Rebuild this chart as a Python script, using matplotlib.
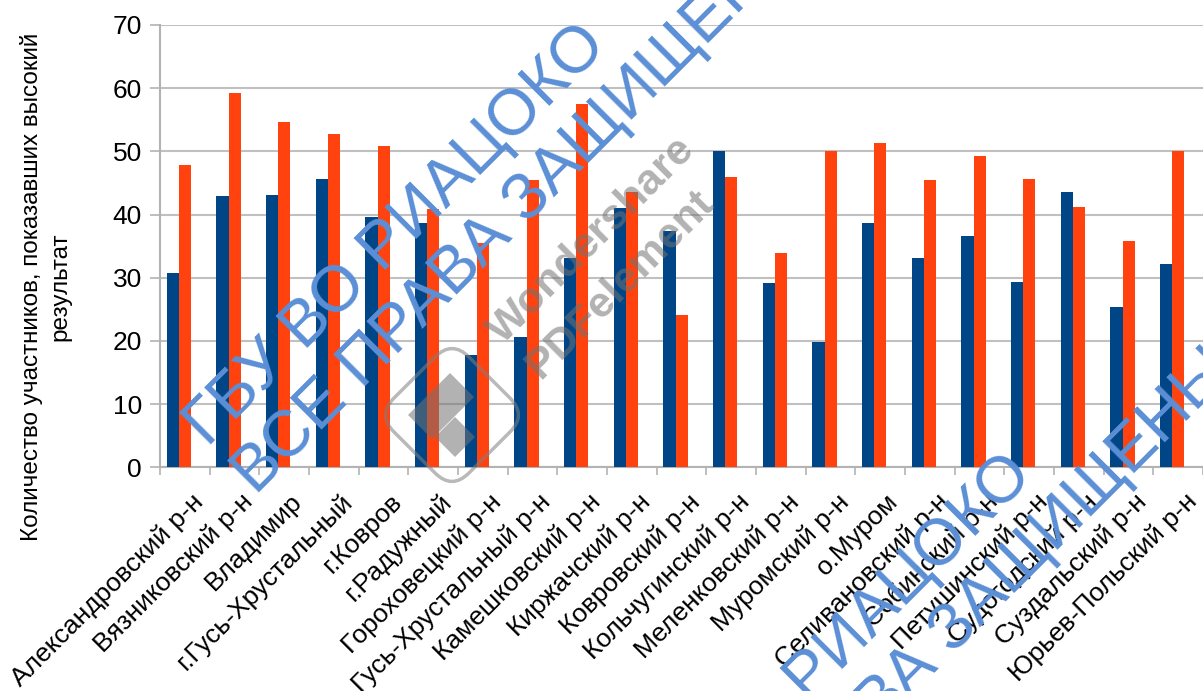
import matplotlib
matplotlib.use("Agg")
import matplotlib.pyplot as plt
import matplotlib.transforms as mtrans
import numpy as np
from matplotlib.patches import FancyBboxPatch, Polygon
from matplotlib.transforms import Affine2D

categories = [
    "Александровский р-н", "Вязниковский р-н", "Владимир", "г.Гусь-Хрустальный",
    "г.Ковров", "г.Радужный", "Гороховецкий р-н", "Гусь-Хрустальный р-н",
    "Камешковский р-н", "Киржачский р-н", "Ковровский р-н", "Кольчугинский р-н",
    "Меленковский р-н", "Муромский р-н", "о.Муром", "Селивановский р-н",
    "Собинский р-н", "Петушинский р-н", "Судогодский р-н", "Суздальский р-н",
    "Юрьев-Польский р-н",
]
series_blue = [30.8, 43.0, 43.1, 45.6, 39.6, 38.7, 17.7, 20.6, 33.1, 41.0, 37.4,
               50.0, 29.2, 19.9, 38.6, 33.2, 36.6, 29.3, 43.5, 25.4, 32.1]
series_orange = [47.9, 59.3, 54.7, 52.8, 50.8, 40.9, 35.5, 45.4, 57.5, 43.6, 24.1,
                 46.0, 33.9, 50.0, 51.4, 45.4, 49.2, 45.6, 41.2, 35.8, 50.0]
yticks = [0, 10, 20, 30, 40, 50, 60, 70]
ylabel = "Количество участников, показавших высокий\nрезультат"

W, H = 1203, 691
FONT = ["Liberation Sans", "DejaVu Sans"]
plt.rcParams["font.family"] = FONT

fig = plt.figure(figsize=(W / 100, H / 100), dpi=100)
left_px, top_px, bottom_px = 160, 25, 467.3
ax = fig.add_axes([left_px / W, 1 - bottom_px / H, 1 - left_px / W, (bottom_px - top_px) / H])

x = np.arange(len(categories))
bw = 0.245
ax.bar(x - bw / 2, series_blue, width=bw, color="#004586", zorder=3)
ax.bar(x + bw / 2, series_orange, width=bw, color="#ff420e", zorder=3)

ax.set_xlim(-0.38, -0.38 + (W - left_px) / 50.1)
ax.set_ylim(0, 70)
ax.set_yticks(yticks)
ax.set_yticklabels([str(v) for v in yticks], fontsize=19)
ax.tick_params(axis="y", length=7, width=1.2, color="#b3b3b3", pad=6)
ax.yaxis.grid(True, color="#c0c0c0", linewidth=1.5, zorder=0)
ax.set_axisbelow(True)
for s in ["top", "right"]:
    ax.spines[s].set_visible(False)
for s in ["left", "bottom"]:
    ax.spines[s].set_color("#b3b3b3")
    ax.spines[s].set_linewidth(1.5)

ax.set_xticks(np.arange(len(categories) + 1) - 0.38)
ax.set_xticklabels([])
ax.tick_params(axis="x", length=6, width=1.2, color="#b3b3b3")

off = mtrans.ScaledTranslation(12 / 100, -22 / 100, fig.dpi_scale_trans)
lab_tr = mtrans.blended_transform_factory(ax.transData, ax.transAxes) + off
for xi, lab in zip(x, categories):
    ax.text(xi, 0, lab, transform=lab_tr, rotation=45, rotation_mode="anchor",
            ha="right", va="top", fontsize=19, color="black")

fig.text(46 / W, 1 - 287 / H, ylabel, rotation=90, ha="center", va="center",
         fontsize=17.5, linespacing=1.4, multialignment="center")

# watermarks
wm_color = "#5b8fd6"
def wm(x0, y0):
    fig.text(x0 / W, 1 - y0 / H, "ГБУ ВО РИАЦОКО", rotation=45, rotation_mode="anchor",
             ha="left", va="baseline", fontsize=47, color=wm_color, zorder=10)
    fig.text((x0 + 48) / W, 1 - (y0 + 48) / H, "ВСЕ ПРАВА ЗАЩИЩЕНЫ", rotation=45,
             rotation_mode="anchor", ha="left", va="baseline", fontsize=47, color=wm_color, zorder=10)
wm(208, 448)
wm(634, 878)

gray = (0.45, 0.45, 0.45, 0.55)
fig.text(592 / W, 1 - 240 / H, "Wondershare", rotation=45, rotation_mode="anchor",
         ha="center", va="center", fontsize=31, fontweight="bold", color=gray, zorder=9)
fig.text(620 / W, 1 - 285 / H, "PDFelement", rotation=45, rotation_mode="anchor",
         ha="center", va="center", fontsize=31, fontweight="bold", color=gray, zorder=9)

# logo
cx, cy = 452, 415
tr = Affine2D().rotate_deg_around(cx, H - cy, 45)
side = 106
box = FancyBboxPatch((cx - side / 2, H - cy - side / 2), side, side,
                     boxstyle="round,pad=0,rounding_size=24",
                     fill=False, edgecolor=(0.5, 0.5, 0.5, 0.55), linewidth=2.5,
                     transform=tr, zorder=9)
fig.patches.append(box)
lg = (0.45, 0.45, 0.45, 0.55)
shapeA = [(450, 373), (474, 397), (432, 439), (408, 415)]
shapeB = [(455, 417), (475, 437), (455, 457), (435, 437)]
for pts in (shapeA, shapeB):
    fig.patches.append(Polygon([(px, H - py) for px, py in pts], closed=True,
                               facecolor=lg, edgecolor="none", zorder=9))

fig.savefig("out.png", dpi=100)
